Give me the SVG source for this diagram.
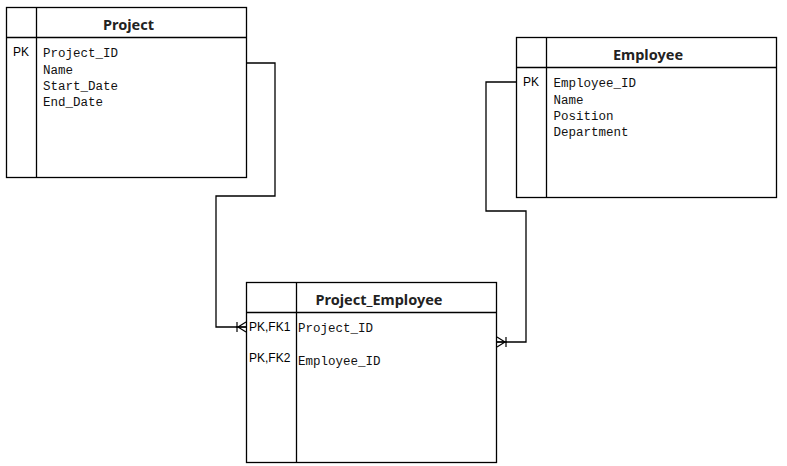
<svg xmlns="http://www.w3.org/2000/svg" width="787" height="466" viewBox="0 0 787 466">
<style>
.box{fill:#fff;stroke:#000;stroke-width:1.3}
.ln{stroke:#000;stroke-width:1.3;fill:none}
.hd{font-family:"Noto Sans","Open Sans","Liberation Sans",sans-serif;font-weight:bold;font-size:14.5px;fill:#222;text-anchor:middle}
.key{font-family:"Liberation Sans",Arial,sans-serif;font-size:12px;fill:#000}
.fld{font-family:"Liberation Mono","DejaVu Sans Mono",monospace;font-size:12.5px;fill:#111}
.conn{stroke:#000;stroke-width:1.3;fill:none}
</style>
<defs>
<marker id="many" markerWidth="12" markerHeight="14" refX="10" refY="7" orient="auto" markerUnits="userSpaceOnUse">
<path d="M2,7 L10,2 M2,7 L10,12 M1,2 L1,12 M0,7 L10,7" stroke="#000" stroke-width="1.2" fill="none"/>
</marker>
</defs>
<g id="connectors">
<path class="conn" d="M246,63 H275 V196 H216 V327 H246" marker-end="url(#many)"/>
<path class="conn" d="M516,82 H486 V211 H526 V342 H497" marker-end="url(#many)"/>
</g>
<g id="project">
<rect class="box" x="6.5" y="7.5" width="240" height="170"/>
<line class="ln" x1="6.5" y1="37.5" x2="246.5" y2="37.5"/>
<line class="ln" x1="36.5" y1="7.5" x2="36.5" y2="177.5"/>
<text class="hd" x="128.5" y="29.5">Project</text>
<text class="key" x="13" y="56">PK</text>
<text class="fld" x="43" y="57">Project_ID</text>
<text class="fld" x="43" y="73.5">Name</text>
<text class="fld" x="43" y="90">Start_Date</text>
<text class="fld" x="43" y="106">End_Date</text>
</g>
<g id="employee">
<rect class="box" x="516.5" y="37.5" width="260" height="160"/>
<line class="ln" x1="516.5" y1="67.5" x2="776.5" y2="67.5"/>
<line class="ln" x1="546.5" y1="37.5" x2="546.5" y2="197.5"/>
<text class="hd" x="648" y="59.5">Employee</text>
<text class="key" x="523" y="86">PK</text>
<text class="fld" x="553.5" y="87">Employee_ID</text>
<text class="fld" x="553.5" y="104">Name</text>
<text class="fld" x="553.5" y="120">Position</text>
<text class="fld" x="553.5" y="136">Department</text>
</g>
<g id="project_employee">
<rect class="box" x="246.5" y="282.5" width="250" height="180"/>
<line class="ln" x1="246.5" y1="312.5" x2="496.5" y2="312.5"/>
<line class="ln" x1="296.5" y1="282.5" x2="296.5" y2="462.5"/>
<text class="hd" x="379" y="304.5">Project_Employee</text>
<text class="key" x="249" y="331">PK,FK1</text>
<text class="key" x="249" y="362">PK,FK2</text>
<text class="fld" x="298" y="332">Project_ID</text>
<text class="fld" x="298" y="365">Employee_ID</text>
</g>
</svg>
